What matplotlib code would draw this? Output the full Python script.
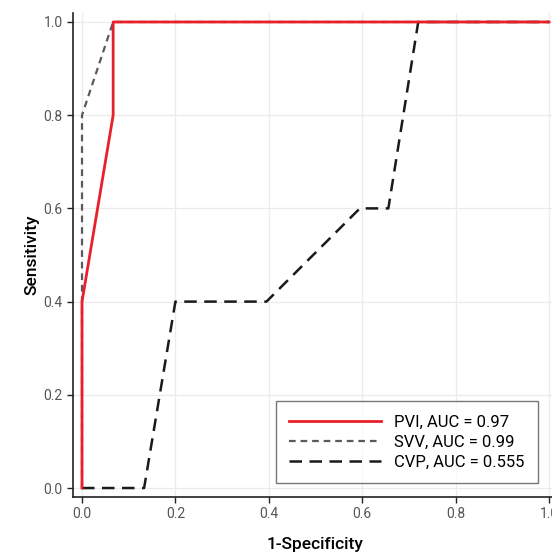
import matplotlib.pyplot as plt

# ROC curves
pvi_fpr = [0.0, 0.0, 0.0667, 0.0667, 1.0]
pvi_tpr = [0.0, 0.4, 0.8, 1.0, 1.0]
svv_fpr = [0.0, 0.0, 0.0667, 1.0]
svv_tpr = [0.0, 0.8, 1.0, 1.0]
cvp_fpr = [0.0, 0.133, 0.2, 0.395, 0.595, 0.656, 0.72, 1.0]
cvp_tpr = [0.0, 0.0, 0.4, 0.4, 0.6, 0.6, 1.0, 1.0]
labels = ['PVI, AUC = 0.97', 'SVV, AUC = 0.99', 'CVP, AUC = 0.555']
ticks = [0.0, 0.2, 0.4, 0.6, 0.8, 1.0]

plt.rcParams['font.family'] = ['Roboto', 'DejaVu Sans']

W, H = 552, 552
fig = plt.figure(figsize=(W / 100, H / 100), dpi=100)
# panel runs past the right edge of the picture, like the reference crop
ax = fig.add_axes([73 / W, 1 - 497 / H, (558 - 73) / W, (497 - 13) / H])

ax.plot(pvi_fpr, pvi_tpr, color='#e8202a', lw=2.0, label=labels[0], zorder=3)
ax.plot(svv_fpr, svv_tpr, color='#5a5a5a', lw=1.6, ls=(0, (3, 2.2)), label=labels[1], zorder=2)
ax.plot(cvp_fpr, cvp_tpr, color='#1a1a1a', lw=1.8, ls=(0, (5, 3)), label=labels[2], zorder=2)

pad = 9 / 467
ax.set_xlim(-pad, 1 + pad)
ax.set_ylim(-pad * 1.0, 1 + pad)
ax.set_xticks(ticks)
ax.set_yticks(ticks)
ax.set_xticklabels(['%.1f' % t for t in ticks])
ax.set_yticklabels(['%.1f' % t for t in ticks])
ax.grid(True, color='#ebebeb', lw=0.9)
ax.set_axisbelow(True)
for s in ['top', 'right']:
    ax.spines[s].set_visible(False)
for s in ['left', 'bottom']:
    ax.spines[s].set_color('#222222')
    ax.spines[s].set_linewidth(1.2)
ax.tick_params(colors='#222222', labelcolor='#555555', labelsize=10, length=4, width=1)

ax.set_xlabel('1-Specificity', fontsize=12.5, fontweight='medium', labelpad=11)
ax.set_ylabel('Sensitivity', fontsize=12.5, fontweight='medium', labelpad=3)

leg = ax.legend(loc='lower right', bbox_to_anchor=((538 - 73) / (558 - 73), (497 - 483) / (497 - 13)),
                fontsize=12, frameon=True, fancybox=False, edgecolor='#555555',
                handlelength=5.5, handletextpad=0.8, borderpad=0.8, labelspacing=0.3,
                borderaxespad=0)
leg.get_frame().set_linewidth(1.0)

fig.savefig('out.png', dpi=100)
